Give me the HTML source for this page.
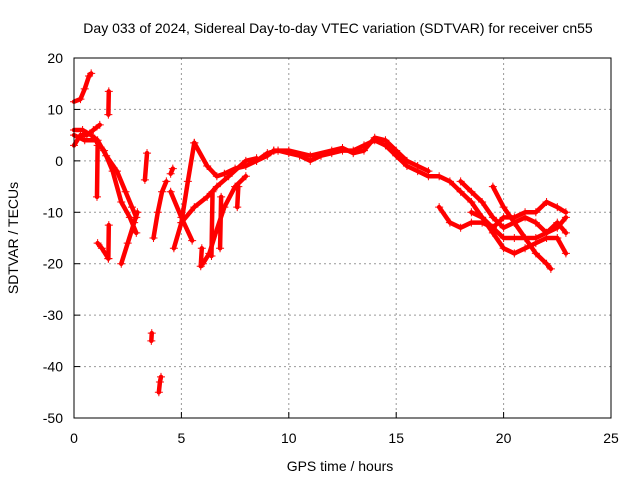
<!DOCTYPE html>
<html><head><meta charset="utf-8"><style>
body{margin:0;background:#fff;}
svg{display:block;font-family:"Liberation Sans",sans-serif;font-size:14px;}
</style></head><body>
<svg width="640" height="480" xmlns="http://www.w3.org/2000/svg">
<rect width="640" height="480" fill="#fff"/>
<text x="338" y="33" text-anchor="middle">Day 033 of 2024, Sidereal Day-to-day VTEC variation (SDTVAR) for receiver cn55</text>
<g id="grid"></g>
<g id="marks"></g>
<rect x="74" y="58" width="537" height="360" fill="none" stroke="#000"/>
<g id="ticks"></g>
<text x="340" y="471" text-anchor="middle">GPS time / hours</text>
<text transform="translate(18,238) rotate(-90)" text-anchor="middle">SDTVAR / TECUs</text>
</svg>
<script>
const xTicks=[0,5,10,15,20,25];
const yTicks=[20,10,0,-10,-20,-30,-40,-50];
const tracks=[
 [[0,0.3,0.5,0.7,0.8],[11.5,12,14,16.5,17]],
 [[0,0.3,0.6,0.9,1.2],[3,5,5,6,7]],
 [[0,0.4,0.8,1.1,1.5,2,2.4,2.7,2.9],[6,6,5,4,1,-2,-6,-9,-11]],
 [[0,0.5,1,1.4,1.8,2.2,2.6,2.9],[5,4,4,2,-2,-8,-11,-14]],
 [[1.1,1.3,1.6],[-16,-17,-19]],
 [[1.07,1.1],[-7,3]],
 [[1.6,1.62],[9,13.5]],
 [[1.6,1.62],[-19,-12.5]],
 [[2.2,2.5,2.8,2.95],[-20,-16,-12,-10]],
 [[3.3,3.4],[-3.7,1.5]],
 [[3.7,3.9,4.1,4.3],[-15,-10,-6,-4]],
 [[4.5,4.6],[-2.5,-1.5]],
 [[3.6,3.62],[-35,-33.5]],
 [[3.95,4.0,4.05],[-45,-43,-42]],
 [[4.5,5,5.5],[-6,-11,-15.5]],
 [[4.65,5,5.3,5.6],[-17,-12,-4,3.5]],
 [[5.6,6.2,6.65,7,7.5,8,8.5,9,9.3],[3.5,-1,-3,-2.5,-1.5,-1,0,1,2]],
 [[5,5.6,6.2,6.65,7.2,8,8.5],[-12,-9,-7,-5,-3,0,0.5]],
 [[6,6.3,6.6,7,7.5,8],[-20,-18,-14,-9,-5,-3]],
 [[5.9,5.95],[-20.5,-17]],
 [[6.4,6.45],[-18.5,-6]],
 [[6.8,6.85],[-17,-7]],
 [[7.6,7.65],[-9,-5]],
 [[9.3,9.5,10,10.5,11,11.5,12,12.5,13,13.5,14,14.5,15,15.5,16,16.5,17,17.5,18,18.5,19,19.5,20,20.5,21,21.5,22,22.5,22.9],[2,2,1.5,1,0,1,1.5,2,2,3,4,3,1,-1,-2,-3,-3,-4,-6,-8,-11,-14,-17,-18,-17,-16,-15,-15,-18]],
 [[8.5,9,9.5,10,11,12,12.5,13,13.5,14,14.5,15,15.5,16,16.5],[0,1.5,2,2,1,2,2.5,1.5,2,4.5,4,2,0,-1,-2]],
 [[17,17.5,18,18.5,19,19.5,20,20.5,21,21.5,22,22.5,22.9],[-9,-12,-13,-12,-12,-13,-11,-11,-10,-10,-8,-9,-10]],
 [[18,18.5,19,19.5,20,20.5,21,21.5,22,22.5,22.9],[-4,-6,-8,-11,-13,-12,-11,-12,-14,-13,-11]],
 [[18.5,19,19.5,20,20.5,21,21.5,22,22.5,22.9],[-10,-11,-13,-15,-15,-15,-15,-14,-12,-14]],
 [[19.5,20,20.5,21,21.5,22,22.2],[-5,-9,-12,-15,-18,-20,-21]]
];
const X=v=>74+v*537/25, Y=v=>58+(20-v)*360/70;
const NS='http://www.w3.org/2000/svg';
const g=document.getElementById('grid'),t=document.getElementById('ticks'),m=document.getElementById('marks');
function el(p,n,a){const e=document.createElementNS(NS,n);for(const k in a)e.setAttribute(k,a[k]);p.appendChild(e);return e;}
xTicks.forEach(v=>{
 if(v>0&&v<25){const l=el(g,'line',{x1:X(v),x2:X(v),y1:58,y2:418,stroke:'#999','stroke-dasharray':'2,3'});
 
 }
 el(t,'line',{x1:X(v),x2:X(v),y1:418,y2:412,stroke:'#000'});
 const s=el(t,'text',{x:X(v),y:443,'text-anchor':'middle'});s.textContent=v;
 
 
});
yTicks.forEach(v=>{
 if(v<20&&v>-50){const l=el(g,'line',{x1:74,x2:611,y1:Y(v),y2:Y(v),stroke:'#999','stroke-dasharray':'2,3'});
 
 }
 el(t,'line',{x1:74,x2:80,y1:Y(v),y2:Y(v),stroke:'#000'});
 const s=el(t,'text',{x:63,y:Y(v)+5,'text-anchor':'end'});s.textContent=v;
 
 
});
tracks.forEach(([xs,ys])=>{
 const pts=xs.map((x,i)=>X(x)+','+Y(ys[i])).join(' ');
 const p=el(m,'polyline',{points:pts,fill:'none',stroke:'#f00','stroke-width':4.5,'stroke-linejoin':'round','stroke-linecap':'round'});
 
 
 xs.forEach((x,i)=>{
  const cx=X(x),cy=Y(ys[i]);
  const mk=el(m,'path',{d:`M${cx-4},${cy}h8M${cx},${cy-4}v8`,stroke:'#f00','stroke-width':1});
  
  
 });
});
</script>
</body></html>
